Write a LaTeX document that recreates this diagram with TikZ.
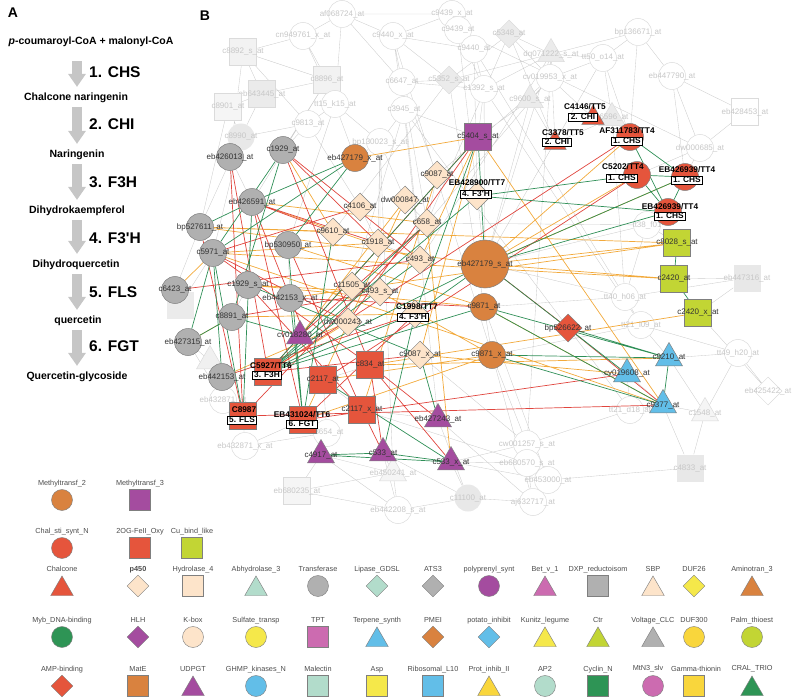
\documentclass[tikz,border=0pt]{standalone}
\usepackage{fontspec}
\setmainfont{Liberation Sans}
\usetikzlibrary{arrows.meta,shapes.geometric}
\definecolor{MethOrange}{HTML}{D9823F}
\definecolor{MethPurple}{HTML}{A44C9F}
\definecolor{ChalRed}{HTML}{E5553C}
\definecolor{CuLime}{HTML}{C2D534}
\definecolor{PeachLight}{HTML}{FDE4CA}
\definecolor{TealLight}{HTML}{B2DCCB}
\definecolor{GreyMid}{HTML}{B0B0B0}
\definecolor{MybGreen}{HTML}{2E9455}
\definecolor{SulfYellow}{HTML}{F5E84A}
\definecolor{TptPink}{HTML}{CC6BB0}
\definecolor{SkyBlue}{HTML}{62BEE8}
\definecolor{GoldYellow}{HTML}{F9D63C}
\definecolor{EdgeRed}{HTML}{E0453E}
\definecolor{EdgeOrange}{HTML}{F2A93B}
\definecolor{EdgeGreen}{HTML}{2F8F57}
\definecolor{ArrowGrey}{HTML}{C6C6C6}
\definecolor{NodeLine}{HTML}{7F7F7F}
\pgfdeclarelayer{bgedge}
\pgfdeclarelayer{bgnode}
\pgfdeclarelayer{fgedge}
\pgfsetlayers{bgedge,bgnode,fgedge,main}

\begin{document}
\begin{tikzpicture}[x=1pt,y=-1pt]
  \path[use as bounding box] (0,0) rectangle (793,698);

  \tikzset{
    panelTag/.style={font=\fontsize{14}{14}\selectfont\bfseries, inner sep=0pt},
    compound/.style={font=\fontsize{10.5}{11}\selectfont\bfseries, inner sep=0pt},
    enzymeStep/.style={font=\fontsize{15.5}{16}\selectfont\bfseries, inner sep=0pt, anchor=west},
    pathArrow/.style={draw=ArrowGrey, line width=10pt,
      -{Triangle[width=17pt,length=13pt]}, shorten <=4pt, shorten >=6pt},
    netlab/.style={font=\fontsize{8}{8}\selectfont, text=black!80, inner sep=0pt},
    bglab/.style={font=\fontsize{8}{8}\selectfont, text=black!22, inner sep=0pt},
    nl/.style={label={[netlab]center:#1}},
    bl/.style={label={[bglab]center:#1}},
    netnode/.style={inner sep=0pt, draw=NodeLine, line width=.5pt},
    fcirc/.style={netnode, circle, minimum size=27pt},
    fsq/.style={netnode, rectangle, minimum size=27pt},
    fdia/.style={netnode, diamond, minimum size=28pt},
    ftri/.style={netnode, regular polygon, regular polygon sides=3, minimum size=31pt},
    bgbase/.style={inner sep=0pt, draw=black!14, line width=.5pt, fill=white},
    bcirc/.style={bgbase, circle, minimum size=27pt},
    bsq/.style={bgbase, rectangle, minimum size=27pt},
    bdia/.style={bgbase, diamond, minimum size=28pt},
    btri/.style={bgbase, regular polygon, regular polygon sides=3, minimum size=31pt},
    gene/.style={font=\fontsize{8.3}{9}\selectfont\bfseries, text=black, inner sep=0pt},
    stepbox/.style={draw=black, line width=.8pt, fill=white,
      font=\fontsize{8.3}{9}\selectfont\bfseries, inner xsep=2pt, inner ysep=1pt},
    gedge/.style={draw=black!20, line width=.35pt},
    redge/.style={draw=EdgeRed, line width=.7pt},
    oedge/.style={draw=EdgeOrange, line width=.7pt},
    nedge/.style={draw=EdgeGreen, line width=.7pt},
    leglab/.style={font=\fontsize{7.3}{8}\selectfont, text=black!70, inner sep=0pt,
      text height=5.4pt, text depth=1.6pt},
    ll/.style={label={[leglab,yshift=16.5pt]center:#1}},
    llt/.style={label={[leglab,yshift=19.5pt]center:#1}},
    legbase/.style={inner sep=0pt, draw=NodeLine, line width=.45pt},
    lcirc/.style={legbase, circle, minimum size=21pt},
    lsq/.style={legbase, rectangle, minimum size=21pt},
    ldia/.style={legbase, diamond, minimum size=22pt},
    ltri/.style={legbase, regular polygon, regular polygon sides=3, minimum size=26pt,
      yshift=-3pt}
  }

  % A: pathway
  \node[panelTag] (tagA) at (13,13) {A};
  \node[compound] (cpd0) at (91,42) {\textit{p}-coumaroyl-CoA + malonyl-CoA};
  \node[compound] (cpd1) at (76,98) {Chalcone naringenin};
  \node[compound] (cpd2) at (77,155) {Naringenin};
  \node[compound] (cpd3) at (77,211) {Dihydrokaempferol};
  \node[compound] (cpd4) at (76,265) {Dihydroquercetin};
  \node[compound] (cpd5) at (78,321) {quercetin};
  \node[compound] (cpd6) at (77,377) {Quercetin-glycoside};
  \coordinate (axis) at (77,0);
  \draw[pathArrow, shorten <=14pt] (cpd0.south -| axis) -- (cpd1.north -| axis);
  \draw[pathArrow] (cpd1.south -| axis) -- (cpd2.north -| axis);
  \draw[pathArrow] (cpd2.south -| axis) -- (cpd3.north -| axis);
  \draw[pathArrow] (cpd3.south -| axis) -- (cpd4.north -| axis);
  \draw[pathArrow] (cpd4.south -| axis) -- (cpd5.north -| axis);
  \draw[pathArrow] (cpd5.south -| axis) -- (cpd6.north -| axis);
  \node[enzymeStep] (e1) at (89,72) {1. CHS};
  \node[enzymeStep] (e2) at (89,124) {2. CHI};
  \node[enzymeStep] (e3) at (89,182) {3. F3H};
  \node[enzymeStep] (e4) at (89,238) {4. F3\textquotesingle H};
  \node[enzymeStep] (e5) at (89,292) {5. FLS};
  \node[enzymeStep] (e6) at (89,346) {6. FGT};

  % B: network, faded part
  \node[panelTag] (tagB) at (205,16) {B};
  \begin{pgfonlayer}{bgnode}
  \node[bcirc,bl=af068724\_at] (b1) at (342,14) {};
  \node[bcirc,bl=c9439\_x\_at] (b2) at (452,14) {};
  \node[bcirc,bl=c9439\_at] (b3) at (458,30) {};
  \node[bcirc,bl=c9440\_x\_at] (b4) at (393,36) {};
  \node[bcirc,bl=c9440\_at] (b5) at (474,49) {};
  \node[bcirc,bl=cn949761\_x\_at] (b6) at (303,36) {};
  \node[bsq,fill=black!5,bl=c8892\_s\_at] (b7) at (243,52) {};
  \node[bsq,fill=black!5,bl=c8896\_at] (b8) at (327,80) {};
  \node[bsq,fill=black!8,bl=eb643445\_at] (b9) at (262,94) {};
  \node[bcirc,bl=c6647\_at] (b10) at (402,82) {};
  \node[bdia,fill=black!8,bl=c5352\_s\_at] (b11) at (449,80) {};
  \node[bcirc,bl=c1392\_s\_at] (b12) at (484,89) {};
  \node[bdia,fill=black!8,bl=c5348\_at] (b13) at (509,34) {};
  \node[btri,fill=black!8,bl=dq071222\_s\_at] (b14) at (551,54) {};
  \node[bcirc,bl=bp136671\_at] (b15) at (638,32) {};
  \node[bcirc,bl=tt50\_o14\_at] (b16) at (603,58) {};
  \node[bcirc,bl=eb447790\_at] (b17) at (672,76) {};
  \node[bcirc,bl=cv019953\_x\_at] (b18) at (550,78) {};
  \node[bsq,fill=black!4,bl=c8901\_at] (b19) at (228,107) {};
  \node[bcirc,bl=tt15\_k15\_at] (b20) at (335,104) {};
  \node[bcirc,bl=c3945\_at] (b21) at (404,110) {};
  \node[bcirc,bl=c9813\_at] (b22) at (308,124) {};
  \node[bcirc,draw=none,fill=black!9,bl=c8990\_at] (b23) at (241,137) {};
  \node[bcirc,bl=bp130023\_s\_at] (b24) at (380,142) {};
  \node[bsq,bl=eb428453\_at] (b25) at (745,112) {};
  \node[btri,fill=black!8,bl=c6596\_at] (b26) at (612,118) {};
  \node[bcirc,bl=dw000685\_at] (b27) at (700,148) {};
  \node[btri,fill=black!8,bl=c9600\_s\_at] (b28) at (530,100) {};
  \node[bsq,draw=none,fill=black!9,bl=eb447316\_at] (b29) at (747,278) {};
  \node[bcirc,bl=tt40\_h06\_at] (b30) at (625,297) {};
  \node[bcirc,bl=tt21\_l09\_at] (b31) at (641,325) {};
  \node[bcirc,bl=tt49\_h20\_at] (b32) at (738,353) {};
  \node[bdia,bl=eb425422\_at] (b33) at (768,391) {};
  \node[btri,fill=black!4,bl=c1548\_at] (b34) at (705,413) {};
  \node[bcirc,bl=tt21\_d18\_at] (b35) at (630,410) {};
  \node[bcirc,bl=cw001257\_s\_at] (b36) at (527,444) {};
  \node[bcirc,bl=eb680570\_s\_at] (b37) at (527,463) {};
  \node[bsq,draw=none,fill=black!9,bl=c4833\_at] (b38) at (690,468) {};
  \node[bcirc,draw=none,fill=black!9,bl=c11100\_at] (b39) at (468,498) {};
  \node[bcirc,bl=aj632717\_at] (b40) at (533,502) {};
  \node[bcirc,bl=eb453000\_at] (b41) at (548,480) {};
  \node[bcirc,bl=eb442208\_s\_at] (b42) at (398,510) {};
  \node[bsq,fill=black!4,bl=eb680235\_at] (b43) at (297,491) {};
  \node[btri,fill=black!4,bl=eb450241\_at] (b44) at (393,473) {};
  \node[bcirc,bl=eb432871\_at] (b45) at (223,400) {};
  \node[bcirc,bl=eb432871\_x\_at] (b46) at (245,446) {};
  \node[bcirc,bl=c3654\_at] (b47) at (327,433) {};
  \node[bsq,draw=none,fill=black!8] (b48) at (180,305) {};
  \node[btri,fill=black!6] (b49) at (210,361) {};
  \node[bcirc,bl=tt38\_f01] (b50) at (647,225) {};
  \end{pgfonlayer}

  % B: network, highlighted part
  \node[fcirc,fill=GreyMid,nl=eb426013\_at] (g1) at (230,157) {};
  \node[fcirc,fill=GreyMid,nl=c1929\_at] (g2) at (283,150) {};
  \node[fcirc,fill=GreyMid,nl=eb426591\_at] (g3) at (252,202) {};
  \node[fcirc,fill=GreyMid,nl=bp527611\_at] (g4) at (200,227) {};
  \node[fcirc,fill=GreyMid,nl=bp530950\_at] (g5) at (288,245) {};
  \node[fcirc,fill=GreyMid,nl=c5971\_at] (g6) at (213,253) {};
  \node[fcirc,fill=GreyMid,nl=c6423\_at] (g7) at (175,290) {};
  \node[fcirc,fill=GreyMid,nl=c1929\_s\_at] (g8) at (248,285) {};
  \node[fcirc,fill=GreyMid,nl=eb442153\_x\_at] (g9) at (290,298) {};
  \node[fcirc,fill=GreyMid,nl=c8891\_at] (g10) at (232,317) {};
  \node[fcirc,fill=GreyMid,nl=eb427315\_at] (g11) at (188,342) {};
  \node[fcirc,fill=GreyMid,nl=eb442153\_at] (g12) at (222,377) {};

  \node[fcirc,fill=MethOrange,nl=eb427179\_x\_at] (o1) at (355,158) {};
  \node[fcirc,fill=MethOrange,minimum size=48pt,nl=eb427179\_s\_at] (o2) at (485,264) {};
  \node[fcirc,fill=MethOrange,nl=c9871\_at] (o3) at (484,307) {};
  \node[fcirc,fill=MethOrange,nl=c9871\_x\_at] (o4) at (492,355) {};
  \node[fsq,fill=MethPurple,nl=c5404\_s\_at] (p1) at (478,137) {};

  \node[fdia,fill=PeachLight,nl=c9087\_at] (d1) at (437,175) {};
  \node[fdia,fill=PeachLight] (d2) at (477,196) {};
  \node[fdia,fill=PeachLight,nl=dw000847\_at] (d3) at (405,200) {};
  \node[fdia,fill=PeachLight,nl=c4106\_at] (d4) at (360,207) {};
  \node[fdia,fill=PeachLight,nl=c9610\_at] (d5) at (333,232) {};
  \node[fdia,fill=PeachLight,nl=c658\_at] (d6) at (427,223) {};
  \node[fdia,fill=PeachLight,nl=c1918\_at] (d7) at (378,243) {};
  \node[fdia,fill=PeachLight,nl=c493\_at] (d8) at (420,260) {};
  \node[fdia,fill=PeachLight,nl=c11505\_at] (d9) at (352,286) {};
  \node[fdia,fill=PeachLight,nl=c493\_s\_at] (d10) at (380,292) {};
  \node[fdia,fill=PeachLight] (d11) at (415,314) {};
  \node[fdia,fill=PeachLight,nl=dw000243\_at] (d12) at (348,322) {};
  \node[fdia,fill=PeachLight,nl=c9087\_x\_at] (d13) at (420,355) {};

  \node[ftri,fill=ChalRed,minimum size=26pt] (r1) at (593,118) {};
  \node[ftri,fill=ChalRed,minimum size=26pt] (r2) at (555,143) {};
  \node[fcirc,fill=ChalRed] (r3) at (630,137) {};
  \node[fcirc,fill=ChalRed] (r4) at (637,175) {};
  \node[fcirc,fill=ChalRed] (r5) at (685,177) {};
  \node[fcirc,fill=ChalRed] (r6) at (668,212) {};
  \node[fsq,fill=ChalRed] (r7) at (268,372) {};
  \node[fsq,fill=ChalRed,nl=c834\_at] (r8) at (370,365) {};
  \node[fsq,fill=ChalRed,nl=c2117\_at] (r9) at (323,380) {};
  \node[fsq,fill=ChalRed,nl=c2117\_x\_at] (r10) at (362,410) {};
  \node[fsq,fill=ChalRed] (r11) at (243,416) {};
  \node[fsq,fill=ChalRed] (r12) at (303,420) {};
  \node[fdia,fill=ChalRed,nl=bp526622\_at] (r13) at (568,328) {};

  \node[fsq,fill=CuLime,nl=c8028\_s\_at] (y1) at (677,243) {};
  \node[fsq,fill=CuLime,nl=c2420\_at] (y2) at (674,279) {};
  \node[fsq,fill=CuLime,nl=c2420\_x\_at] (y3) at (698,313) {};

  \node[ftri,fill=MethPurple,nl=cv018280\_at] (t1) at (300,336) {};
  \node[ftri,fill=MethPurple,nl=eb427243\_at] (t2) at (438,419) {};
  \node[ftri,fill=MethPurple,nl=c4917\_at] (t3) at (321,455) {};
  \node[ftri,fill=MethPurple,nl=c533\_at] (t4) at (383,453) {};
  \node[ftri,fill=MethPurple,nl=c533\_x\_at] (t5) at (451,462) {};

  \node[ftri,fill=SkyBlue,nl=c9210\_at] (u1) at (669,358) {};
  \node[ftri,fill=SkyBlue,nl=cv019608\_at] (u2) at (627,374) {};
  \node[ftri,fill=SkyBlue,nl=c9377\_at] (u3) at (663,405) {};

  % pathway genes with their step
  \node[gene] (r1g) at (585,107) {C4146/TT5};
  \node[stepbox] (r1s) at (583,117) {2. CHI};
  \node[gene] (r2g) at (563,133) {C3378/TT5};
  \node[stepbox] (r2s) at (557,142) {2. CHI};
  \node[gene] (r3g) at (627,131) {AF311783/TT4};
  \node[stepbox] (r3s) at (627,141) {1. CHS};
  \node[gene] (r4g) at (623,167) {C5202/TT4};
  \node[stepbox] (r4s) at (622,178) {1. CHS};
  \node[gene] (r5g) at (687,170) {EB426939/TT4};
  \node[stepbox] (r5s) at (687,180) {1. CHS};
  \node[gene] (r6g) at (670,207) {EB426939/TT4};
  \node[stepbox] (r6s) at (670,216) {1. CHS};
  \node[gene] (d2g) at (477,183) {EB428900/TT7};
  \node[stepbox] (d2s) at (476,194) {4. F3\textquotesingle H};
  \node[gene] (d11g) at (417,307) {C1998/TT7};
  \node[stepbox] (d11s) at (413,317) {4. F3\textquotesingle H};
  \node[gene] (r7g) at (271,366) {C5927/TT6};
  \node[stepbox] (r7s) at (267,375) {3. F3H};
  \node[gene] (r11g) at (244,410) {C8987};
  \node[stepbox] (r11s) at (242,420) {5. FLS};
  \node[gene] (r12g) at (302,415) {EB431024/TT6};
  \node[stepbox] (r12s) at (302,424) {6. FGT};

  % grey links
  \begin{pgfonlayer}{bgedge}
  \draw[gedge] (b1) -- (b6) (b1) -- (b4) (b1) -- (b10) (b1) -- (b20) (b1) -- (b2)
    (b2) -- (b3) (b2) -- (b5) (b3) -- (b5) (b4) -- (b10) (b4) -- (b5) (b4) -- (b21)
    (b4) -- (b11) (b4) -- (b2) (b6) -- (b7) (b6) -- (b8) (b6) -- (b20) (b7) -- (b9)
    (b7) -- (b8) (b7) -- (b22) (b9) -- (b8) (b9) -- (b19) (b9) -- (b23) (b10) -- (b21)
    (b10) -- (b12) (b10) -- (b11) (b11) -- (b13) (b11) -- (b14) (b12) -- (b14)
    (b13) -- (b14) (b14) -- (b16) (b14) -- (b15) (b14) -- (b18) (b15) -- (b16)
    (b15) -- (b17) (b16) -- (b18) (b16) -- (b26) (b17) -- (b27) (b18) -- (b28)
    (b19) -- (b23) (b20) -- (b22) (b20) -- (b24) (b21) -- (b24) (b22) -- (b23)
    (b23) -- (g1) (b23) -- (g4) (b24) -- (o1) (b24) -- (d3) (b25) -- (b27)
    (b26) -- (r1) (b27) -- (r5) (b28) -- (p1) (b21) -- (p1) (b12) -- (p1)
    (b16) -- (r3) (b17) -- (b25) (b15) -- (r3) (b8) -- (g2) (b20) -- (o1)
    (b22) -- (g2) (b10) -- (d1) (b5) -- (b12) (b3) -- (b12) (b13) -- (b18)
    (b21) -- (d8) (b24) -- (d7) (b10) -- (d6) (b12) -- (o2) (b18) -- (d1)
    (b5) -- (d2) (b3) -- (o2) (b14) -- (d8) (b14) -- (o2) (b13) -- (d6)
    (b11) -- (d5) (b26) -- (r3) (b27) -- (r4) (b17) -- (r5) (b16) -- (o2)
    (b28) -- (o2) (b18) -- (d6) (b24) -- (d10) (b21) -- (d9) (b22) -- (d4)
    (b20) -- (g5) (b8) -- (g3) (b7) -- (g1) (b19) -- (g4) (b23) -- (g6)
    (b13) -- (r2) (b14) -- (r2) (b28) -- (r2) (b26) -- (r2) (b18) -- (r1)
    (b29) -- (y2) (b29) -- (b30) (b30) -- (b31) (b30) -- (o2) (b31) -- (b32)
    (b31) -- (u1) (b32) -- (b33) (b32) -- (b34) (b34) -- (u3) (b35) -- (u3)
    (b35) -- (b36) (b36) -- (b37) (b37) -- (b41) (b37) -- (b40) (b36) -- (t5)
    (b38) -- (b34) (b38) -- (b41) (b39) -- (b40) (b39) -- (t5) (b40) -- (b41)
    (b42) -- (b39) (b42) -- (t4) (b42) -- (b44) (b43) -- (t3) (b43) -- (b44)
    (b43) -- (b42) (b44) -- (t4) (b45) -- (g12) (b45) -- (r11) (b46) -- (r11)
    (b46) -- (b47) (b47) -- (r12) (b47) -- (t3) (b48) -- (g7) (b49) -- (g11)
    (b30) -- (o3) (b31) -- (o4) (b29) -- (y3) (b32) -- (u1) (b35) -- (u2)
    (b36) -- (o4) (b37) -- (t5) (b41) -- (t5) (b40) -- (o4) (b39) -- (t4)
    (b42) -- (t3) (b44) -- (t3) (b45) -- (g11) (b46) -- (r12) (b47) -- (r9)
    (b48) -- (g6) (b49) -- (g12) (b34) -- (u1) (b33) -- (y3) (b38) -- (u3)
    (b50) -- (y1) (b50) -- (r6) (b50) -- (o2) (b50) -- (b30) (b50) -- (d6)
    (b21) -- (b35) (b12) -- (b31) (b5) -- (b30) (b3) -- (b27) (b18) -- (b36)
    (b26) -- (b30) (b11) -- (o3) (b24) -- (b44) (b10) -- (t2) (b4) -- (o4)
    (b36) -- (d13) (b37) -- (r10) (b40) -- (t2) (b41) -- (o3) (b39) -- (t2)
    (g1) -- (g3) (g3) -- (g8) (g4) -- (g7) (g8) -- (g10) (g9) -- (g5)
    (d4) -- (d7) (d3) -- (d6) (d1) -- (d6) (d7) -- (d8) (d9) -- (d12)
    (r8) -- (r9) (r9) -- (r10) (r10) -- (t2) (o3) -- (o4) (u2) -- (u3);
  \end{pgfonlayer}

  % coloured links
  \begin{pgfonlayer}{fgedge}
  \draw[oedge] (o1) -- (p1) (g3) -- (d6) (g3) -- (d8) (g4) -- (d5) (g4) -- (o2)
    (g6) -- (d7) (g6) -- (y2) (g7) -- (g6) (g8) -- (d10) (g8) -- (o3) (g9) -- (y1)
    (g10) -- (d11) (g11) -- (g10) (g2) -- (d5) (p1) -- (d8) (p1) -- (d13)
    (p1) -- (u3) (o2) -- (r3) (o2) -- (r4) (o2) -- (r5) (o2) -- (y1) (o2) -- (y2)
    (d1) -- (r10) (d3) -- (r12) (d6) -- (t5) (d12) -- (r7) (d13) -- (u2)
    (r8) -- (u1) (r8) -- (y3) (r9) -- (o4) (t1) -- (d3) (o3) -- (u3) (r12) -- (o4)
    (d10) -- (o4) (g5) -- (o3) (g12) -- (d12) (g6) -- (u3) (g4) -- (y1);
  \draw[redge] (g1) -- (r7) (g1) -- (r11) (g2) -- (d7) (g2) -- (d8) (g2) -- (r8)
    (g3) -- (d5) (g3) -- (d7) (g3) -- (r9) (g3) -- (r12) (g6) -- (d4) (g6) -- (r8)
    (g6) -- (d12) (g7) -- (d8) (g8) -- (r10) (g9) -- (o3) (g10) -- (d10)
    (g12) -- (d11) (g5) -- (r10) (p1) -- (r7) (p1) -- (d12) (r3) -- (r7)
    (r4) -- (r9) (r13) -- (u3) (r11) -- (u3) (r12) -- (u2) (t2) -- (r8)
    (t4) -- (r8) (t4) -- (r10) (t5) -- (r8) (t1) -- (d6) (o2) -- (r13)
    (d11) -- (r12) (g4) -- (r11) (d6) -- (r11) (r7) -- (d13);
  \draw[nedge] (o1) -- (g3) (o1) -- (g5) (o1) -- (g6) (g2) -- (g6) (g4) -- (g3)
    (g6) -- (g12) (g6) -- (r11) (g11) -- (g6) (g10) -- (g11) (p1) -- (o2)
    (p1) -- (r7) (p1) -- (d11) (d2) -- (r4) (d2) -- (r6) (d2) -- (r7)
    (r3) -- (r5) (r3) -- (r6) (r4) -- (r5) (r4) -- (r6) (r5) -- (r6) (r5) -- (o2)
    (r6) -- (o2) (y1) -- (y2) (y2) -- (y3) (t3) -- (t4) (t3) -- (t5) (t4) -- (t5)
    (u1) -- (u3) (r13) -- (u1) (r13) -- (u2) (o3) -- (u1) (o3) -- (u3)
    (o4) -- (u3) (g5) -- (r12) (g3) -- (r11) (d11) -- (r7) (d11) -- (o2)
    (d6) -- (r7) (o2) -- (r7) (g8) -- (d13) (t2) -- (d13) (t4) -- (d11)
    (t5) -- (r9) (d5) -- (r12) (g10) -- (t1) (o4) -- (u1) (o3) -- (r7)
    (d8) -- (r7) (g9) -- (r12) (g2) -- (g10) (o2) -- (u2);
  \end{pgfonlayer}

  % legend
  \node[lcirc,fill=MethOrange,ll=Methyltransf\_2] (kMeth2) at (62,500) {};
  \node[lsq,fill=MethPurple,ll=Methyltransf\_3] (kMeth3) at (140,500) {};
  \node[lcirc,fill=ChalRed,ll=Chal\_sti\_synt\_N] (kChalN) at (62,548) {};
  \node[lsq,fill=ChalRed,ll=2OG-FeII\_Oxy] (kOxy) at (140,548) {};
  \node[lsq,fill=CuLime,ll=Cu\_bind\_like] (kCu) at (192,548) {};

  \node[ltri,fill=ChalRed,llt=Chalcone] (kChal) at (62,586) {};
  \node[ldia,fill=PeachLight,label={[leglab,font=\fontsize{7.3}{8}\selectfont\bfseries,yshift=16.5pt]center:p450}] (kP450) at (138,586) {};
  \node[lsq,fill=PeachLight,ll=Hydrolase\_4] (kHyd) at (193,586) {};
  \node[ltri,fill=TealLight,llt=Abhydrolase\_3] (kAbh) at (256,586) {};
  \node[lcirc,fill=GreyMid,ll=Transferase] (kTrans) at (318,586) {};
  \node[ldia,fill=TealLight,ll=Lipase\_GDSL] (kLip) at (377,586) {};
  \node[ldia,fill=GreyMid,ll=ATS3] (kAts) at (433,586) {};
  \node[lcirc,fill=MethPurple,ll=polyprenyl\_synt] (kPoly) at (489,586) {};
  \node[ltri,fill=TptPink,llt=Bet\_v\_1] (kBet) at (545,586) {};
  \node[lsq,fill=GreyMid,ll=DXP\_reductoisom] (kDxp) at (598,586) {};
  \node[ltri,fill=PeachLight,llt=SBP] (kSbp) at (653,586) {};
  \node[ldia,fill=SulfYellow,ll=DUF26] (kDuf26) at (694,586) {};
  \node[ltri,fill=MethOrange,llt=Aminotran\_3] (kAmino) at (752,586) {};

  \node[lcirc,fill=MybGreen,ll=Myb\_DNA-binding] (kMyb) at (62,637) {};
  \node[ldia,fill=MethPurple,ll=HLH] (kHlh) at (138,637) {};
  \node[lcirc,fill=PeachLight,ll=K-box] (kKbox) at (193,637) {};
  \node[lcirc,fill=SulfYellow,ll=Sulfate\_transp] (kSulf) at (256,637) {};
  \node[lsq,fill=TptPink,ll=TPT] (kTpt) at (318,637) {};
  \node[ltri,fill=SkyBlue,llt=Terpene\_synth] (kTerp) at (377,637) {};
  \node[ldia,fill=MethOrange,ll=PMEI] (kPmei) at (433,637) {};
  \node[ldia,fill=SkyBlue,ll=potato\_inhibit] (kPot) at (489,637) {};
  \node[ltri,fill=SulfYellow,llt=Kunitz\_legume] (kKun) at (545,637) {};
  \node[ltri,fill=CuLime,llt=Ctr] (kCtr) at (598,637) {};
  \node[ltri,fill=GreyMid,llt=Voltage\_CLC] (kVolt) at (653,637) {};
  \node[lcirc,fill=GoldYellow,ll=DUF300] (kDuf300) at (694,637) {};
  \node[lcirc,fill=CuLime,ll=Palm\_thioest] (kPalm) at (752,637) {};

  \node[ldia,fill=ChalRed,ll=AMP-binding] (kAmp) at (62,686) {};
  \node[lsq,fill=MethOrange,ll=MatE] (kMate) at (138,686) {};
  \node[ltri,fill=MethPurple,llt=UDPGT] (kUdp) at (193,686) {};
  \node[lcirc,fill=SkyBlue,ll=GHMP\_kinases\_N] (kGhmp) at (256,686) {};
  \node[lsq,fill=TealLight,ll=Malectin] (kMal) at (318,686) {};
  \node[lsq,fill=SulfYellow,ll=Asp] (kAsp) at (377,686) {};
  \node[lsq,fill=SkyBlue,ll=Ribosomal\_L10] (kRib) at (433,686) {};
  \node[ltri,fill=GoldYellow,llt=Prot\_inhib\_II] (kProt) at (489,686) {};
  \node[lcirc,fill=TealLight,ll=AP2] (kAp2) at (545,686) {};
  \node[lsq,fill=MybGreen,ll=Cyclin\_N] (kCyc) at (598,686) {};
  \node[lcirc,fill=TptPink,label={[leglab,xshift=-5pt,yshift=17pt]center:MtN3\_slv}] (kMtn) at (653,686) {};
  \node[lsq,fill=GoldYellow,label={[leglab,xshift=2pt,yshift=16pt]center:Gamma-thionin}] (kGam) at (694,686) {};
  \node[ltri,fill=MybGreen,label={[leglab,yshift=20.5pt]center:CRAL\_TRIO}] (kCral) at (752,686) {};
\end{tikzpicture}
\end{document}
